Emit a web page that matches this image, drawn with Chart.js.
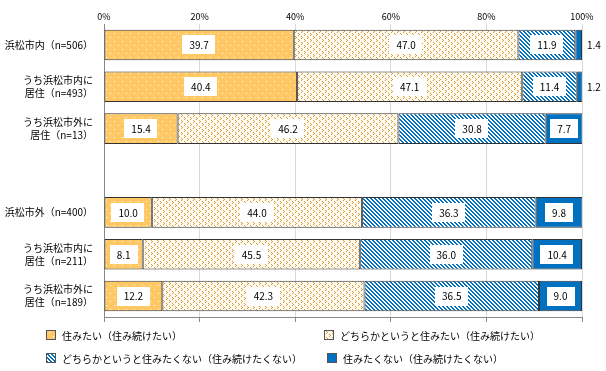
<!DOCTYPE html>
<html>
<head>
<meta charset="utf-8">
<script src="https://cdn.jsdelivr.net/npm/chart.js@4/dist/chart.umd.min.js"></script>
<style>
  body { margin: 0; background: #fff; }
  #wrap { position: relative; width: 606px; height: 371px; }
  .lg { position: absolute; display: flex; align-items: center; height: 12px; line-height: 12px; font: 10px "Noto Sans CJK JP", sans-serif; color: #000; white-space: nowrap; }
  .lg canvas { border: 1px solid #555; margin-right: 6px; }
</style>
</head>
<body>
<div id="wrap">
  <canvas id="chart"></canvas>
</div>
<script>
// categories (empty slot separates the two groups)
const categories = [
  "浜松市内（n=506）",
  ["うち浜松市内に", "居住（n=493）"],
  ["うち浜松市外に", "居住（n=13）"],
  "",
  "浜松市外（n=400）",
  ["うち浜松市内に", "居住（n=211）"],
  ["うち浜松市外に", "居住（n=189）"]
]
const seriesNames = [
  "住みたい（住み続けたい）",
  "どちらかというと住みたい（住み続けたい）",
  "どちらかというと住みたくない（住み続けたくない）",
  "住みたくない（住み続けたくない）"
]
const wantLive = [39.7, 40.4, 15.4, null, 10.0, 8.1, 12.2]
const ratherWant = [47.0, 47.1, 46.2, null, 44.0, 45.5, 42.3]
const ratherNot = [11.9, 11.4, 30.8, null, 36.3, 36.0, 36.5]
const notWant = [1.4, 1.2, 7.7, null, 9.8, 10.4, 9.0]
const xTicks = [0, 20, 40, 60, 80, 100]

// small tile patterns like the original hatch fills
function makePattern(kind) {
  const c = document.createElement("canvas")
  const n = kind === "stripe" ? 4 : kind === "chev" ? 6 : 8
  c.width = n
  c.height = n
  const g = c.getContext("2d")
  if (kind === "dots") {
    g.fillStyle = "#FFC864"
    g.fillRect(0, 0, n, n)
    g.fillStyle = "#FFFFFF"
    g.fillRect(2, 1, 1, 1)
    g.fillRect(6, 5, 1, 1)
  } else if (kind === "chev") {
    g.fillStyle = "#FFFBF0"
    g.fillRect(0, 0, n, n)
    g.fillStyle = "#D39C3E"
    ;[[1, 0], [2, 1], [1, 2], [4, 3], [5, 4], [4, 5]].forEach(p => g.fillRect(p[0], p[1], 1, 1))
  } else if (kind === "stripe") {
    g.fillStyle = "#FFFFFF"
    g.fillRect(0, 0, n, n)
    g.fillStyle = "#0070C0"
    for (let y = 0; y < n; y++) {
      for (let x = 0; x < n; x++) {
        const d = ((x - y) % 4 + 4) % 4
        if (d < 2) g.fillRect(x, y, 1, 1)
      }
    }
  }
  return c
}

const ctx = document.getElementById("chart").getContext("2d")
const tiles = [makePattern("dots"), makePattern("chev"), makePattern("stripe"), null]
const fills = tiles.map(t => (t ? ctx.createPattern(t, "repeat") : "#0070C0"))

// value labels in white boxes
const boxLabels = {
  id: "boxLabels",
  afterDatasetsDraw(chart) {
    const c = chart.ctx
    c.save()
    c.font = '10px "Noto Sans CJK JP", sans-serif'
    c.textBaseline = "middle"
    chart.data.datasets.forEach((ds, i) => {
      const meta = chart.getDatasetMeta(i)
      meta.data.forEach((bar, j) => {
        const v = ds.data[j]
        if (v == null) return
        const p = bar.getProps(["x", "y", "base"], true)
        const text = v.toFixed(1)
        if (v < 3) {
          c.fillStyle = "#000"
          c.textAlign = "left"
          c.fillText(text, chart.chartArea.right + 5, p.y)
          return
        }
        const cx = (p.x + p.base) / 2
        const w = c.measureText(text).width + 14
        const h = 19
        c.fillStyle = "#fff"
        c.fillRect(Math.round(cx - w / 2), Math.round(p.y - h / 2), Math.round(w), h)
        c.fillStyle = "#000"
        c.textAlign = "center"
        c.fillText(text, cx, p.y + 0.5)
      })
    })
    c.restore()
  }
}

const chart = new Chart(ctx, {
  type: "bar",
  data: {
    labels: categories,
    datasets: [wantLive, ratherWant, ratherNot, notWant].map((vals, i) => ({
      label: seriesNames[i],
      data: vals,
      backgroundColor: fills[i],
      borderColor: "#333333",
      borderWidth: 1,
      borderSkipped: false,
      categoryPercentage: 0.73,
      barPercentage: 1,
      xAxisID: "x"
    }))
  },
  options: {
    indexAxis: "y",
    responsive: true,
    maintainAspectRatio: false,
    animation: false,
    layout: { padding: { top: 0, right: 24, bottom: 49, left: 0 } },
    plugins: {
      legend: { display: false },
      tooltip: { enabled: false }
    },
    scales: {
      x: {
        position: "top",
        stacked: true,
        min: 0,
        max: 100,
        afterBuildTicks: s => { s.ticks = xTicks.map(v => ({ value: v })) },
        ticks: {
          callback: v => v + "%",
          font: { size: 9, family: '"Noto Sans CJK JP", sans-serif' },
          color: "#000",
          padding: 2,
          maxRotation: 0
        },
        grid: { color: "#D9D9D9", drawTicks: false },
        border: { display: false },
        afterFit: s => { s.height = 18 }
      },
      x2: {
        type: "linear",
        position: "bottom",
        min: 0,
        max: 100,
        afterBuildTicks: s => { s.ticks = xTicks.map(v => ({ value: v })) },
        ticks: { display: false },
        grid: { drawOnChartArea: false, color: "#888", tickLength: 5 },
        border: { color: "#888" },
        afterFit: s => { s.height = 5 }
      },
      y: {
        stacked: true,
        ticks: {
          font: { size: 10, family: '"Noto Sans CJK JP", sans-serif', lineHeight: 1.3 },
          color: "#000",
          padding: 11,
          autoSkip: false
        },
        grid: { display: false, drawTicks: false },
        border: { color: "#888" },
        afterFit: s => { s.width = 104 }
      }
    }
  },
  plugins: [boxLabels]
})

// legend laid out like the original (two rows, uneven columns)
const legendPos = [[46, 329], [324, 329], [46, 352], [327, 352]]
const wrap = document.getElementById("wrap")
chart.data.datasets.forEach((ds, i) => {
  const item = document.createElement("div")
  item.className = "lg"
  item.style.left = legendPos[i][0] + "px"
  item.style.top = legendPos[i][1] + "px"
  const sw = document.createElement("canvas")
  sw.width = 8
  sw.height = 8
  const sg = sw.getContext("2d")
  sg.fillStyle = tiles[i] ? sg.createPattern(tiles[i], "repeat") : "#0070C0"
  sg.fillRect(0, 0, 8, 8)
  item.appendChild(sw)
  const t = document.createElement("span")
  t.textContent = ds.label
  item.appendChild(t)
  wrap.appendChild(item)
})
</script>
</body>
</html>
